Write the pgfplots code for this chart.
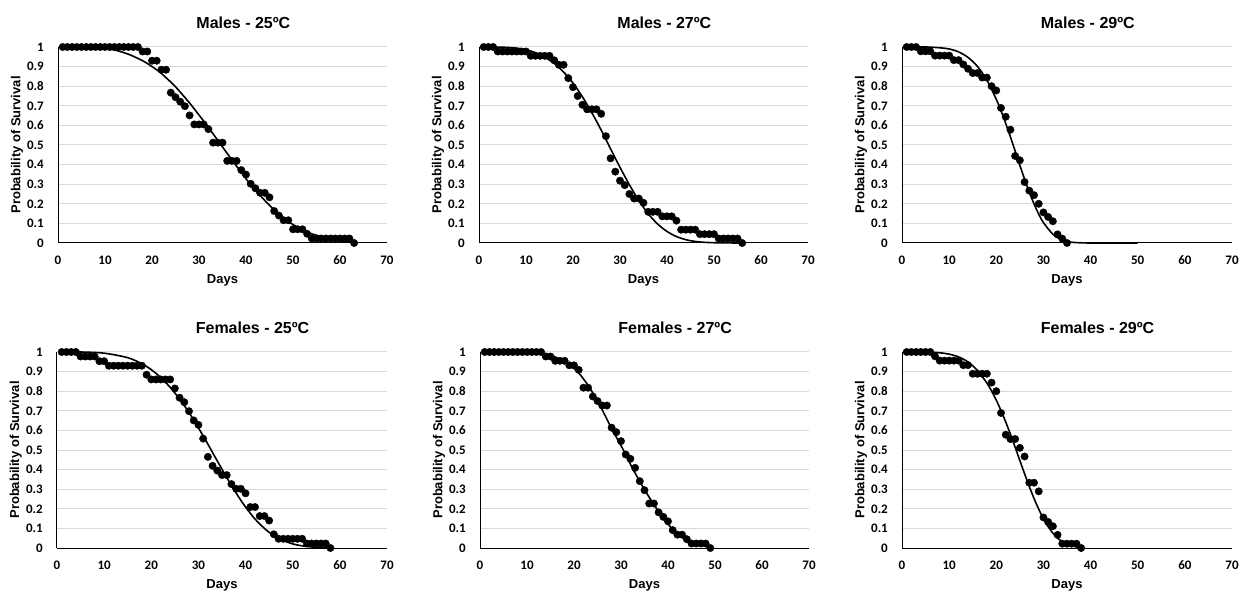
\documentclass[border=0pt]{standalone}
\usepackage{fontspec}
\setmainfont{Liberation Sans}
\newfontfamily\carlito{Carlito}
\usepackage{pgfplots}
\pgfplotsset{compat=1.18}
\definecolor{gridgray}{HTML}{D9D9D9}
\pgfplotsset{
  every axis title shift=0pt,
  surv/.style={
    scale only axis, width=329pt, height=196pt,
    xmin=0, xmax=70, ymin=0, ymax=1,
    xtick={0,10,20,30,40,50,60,70},
    ytick={0,0.1,0.2,0.3,0.4,0.5,0.6,0.7,0.8,0.9,1},
    axis x line*=bottom, axis y line*=left,
    axis line style={black, line width=1pt, -},
    ymajorgrids, grid style={color=gridgray, line width=1pt},
    major tick length=0pt,
    clip=false,
    /pgf/number format/assume math mode=true,
    ticklabel style={font=\carlito\bfseries\fontsize{13}{13}\selectfont, inner sep=0pt},
    xticklabel style={anchor=center, yshift=-17pt},
    yticklabel style={anchor=east, xshift=-14pt},
    xlabel={Days}, ylabel={Probability of Survival},
    label style={font=\bfseries\fontsize{13}{13}\selectfont},
    xlabel style={at={(axis description cs:0.5,-0.189)}, anchor=center},
    ylabel style={at={(axis description cs:-0.1246,0.5)}, anchor=center},
    title style={at={(axis description cs:0.41,1.122)}, anchor=west, font=\bfseries\fontsize{16}{16}\selectfont},
  },
  fit/.style={black, line width=1.6pt, smooth, mark=none},
  obs/.style={only marks, mark=*, mark size=3.7pt, black},
}
\begin{document}
\begin{tikzpicture}[x=1pt,y=1pt]
\path[use as bounding box] (0,0) rectangle (1250,592);

% Males 25
\begin{axis}[surv, at={(58pt,349pt)}, anchor=south west, title={Males - 25ºC}]
\addplot[fit] coordinates {(1,1)(4,1)(8,0.997)(10,0.992)(12,0.985)(15,0.963)(18,0.93)(20,0.9)(22,0.865)(25,0.797)(28,0.714)(30,0.653)(32,0.59)(35,0.49)(38,0.392)(40,0.328)(42,0.27)(45,0.192)(48,0.127)(50,0.094)(53,0.056)(55,0.039)(58,0.02)(60,0.012)(63,0.005)};
\addplot[obs] coordinates {(1,1)(2,1)(3,1)(4,1)(5,1)(6,1)(7,1)(8,1)(9,1)(10,1)(11,1)(12,1)(13,1)(14,1)(15,1)(16,1)(17,1)(18,0.977)(19,0.977)(20,0.930)(21,0.930)(22,0.884)(23,0.884)(24,0.767)(25,0.744)(26,0.721)(27,0.698)(28,0.651)(29,0.605)(30,0.605)(31,0.605)(32,0.581)(33,0.512)(34,0.512)(35,0.512)(36,0.419)(37,0.419)(38,0.419)(39,0.372)(40,0.349)(41,0.302)(42,0.279)(43,0.256)(44,0.256)(45,0.233)(46,0.163)(47,0.140)(48,0.116)(49,0.116)(50,0.070)(51,0.070)(52,0.070)(53,0.047)(54,0.023)(55,0.023)(56,0.023)(57,0.023)(58,0.023)(59,0.023)(60,0.023)(61,0.023)(62,0.023)(63,0)};
\end{axis}

% Males 27
\begin{axis}[surv, at={(479pt,349pt)}, anchor=south west, title={Males - 27ºC}]
\addplot[fit] coordinates {(1,1)(5,0.999)(8,0.994)(10,0.986)(12,0.971)(14,0.947)(16,0.917)(18,0.872)(20,0.816)(22,0.746)(24,0.665)(26,0.576)(28,0.48)(30,0.386)(32,0.297)(34,0.217)(36,0.149)(38,0.097)(40,0.059)(42,0.033)(44,0.017)(46,0.008)(48,0.0035)(50,0.0015)(53,0.0004)(56,0)};
\addplot[obs] coordinates {(1,1)(2,1)(3,1)(4,0.977)(5,0.977)(6,0.977)(7,0.977)(8,0.977)(9,0.977)(10,0.977)(11,0.955)(12,0.955)(13,0.955)(14,0.955)(15,0.955)(16,0.932)(17,0.909)(18,0.909)(19,0.841)(20,0.795)(21,0.750)(22,0.705)(23,0.682)(24,0.682)(25,0.682)(26,0.659)(27,0.545)(28,0.432)(29,0.364)(30,0.318)(31,0.295)(32,0.250)(33,0.227)(34,0.227)(35,0.205)(36,0.159)(37,0.159)(38,0.159)(39,0.136)(40,0.136)(41,0.136)(42,0.114)(43,0.068)(44,0.068)(45,0.068)(46,0.068)(47,0.045)(48,0.045)(49,0.045)(50,0.045)(51,0.023)(52,0.023)(53,0.023)(54,0.023)(55,0.023)(56,0)};
\end{axis}

% Males 29
\begin{axis}[surv, width=330pt, at={(902pt,349pt)}, anchor=south west, title={Males - 29ºC}]
\addplot[fit] coordinates {(1,1)(5,1)(8,0.996)(10,0.99)(12,0.975)(14,0.947)(16,0.901)(18,0.831)(20,0.733)(21,0.675)(22,0.61)(23,0.541)(24,0.469)(25,0.396)(26,0.326)(27,0.259)(28,0.2)(29,0.147)(30,0.104)(32,0.045)(34,0.015)(36,0.004)(38,0.001)(40,0)(45,0)(50,0)};
\addplot[obs] coordinates {(1,1)(2,1)(3,1)(4,0.978)(5,0.978)(6,0.978)(7,0.956)(8,0.956)(9,0.956)(10,0.956)(11,0.933)(12,0.933)(13,0.911)(14,0.889)(15,0.867)(16,0.867)(17,0.844)(18,0.844)(19,0.800)(20,0.778)(21,0.689)(22,0.644)(23,0.578)(24,0.444)(25,0.422)(26,0.311)(27,0.267)(28,0.244)(29,0.200)(30,0.156)(31,0.133)(32,0.111)(33,0.044)(34,0.022)(35,0)};
\end{axis}

% Females 25
\begin{axis}[surv, width=330pt, at={(57pt,44pt)}, anchor=south west, title={Females - 25ºC}]
\addplot[fit] coordinates {(1,1)(5,1)(10,0.994)(15,0.971)(18,0.94)(20,0.91)(22,0.87)(24,0.82)(26,0.76)(28,0.691)(30,0.613)(32,0.53)(34,0.444)(36,0.36)(38,0.28)(40,0.209)(42,0.148)(44,0.1)(46,0.063)(48,0.038)(50,0.021)(52,0.011)(55,0.0034)(58,0.001)};
\addplot[obs] coordinates {(1,1)(2,1)(3,1)(4,1)(5,0.977)(6,0.977)(7,0.977)(8,0.977)(9,0.953)(10,0.953)(11,0.930)(12,0.930)(13,0.930)(14,0.930)(15,0.930)(16,0.930)(17,0.930)(18,0.930)(19,0.884)(20,0.860)(21,0.860)(22,0.860)(23,0.860)(24,0.860)(25,0.814)(26,0.767)(27,0.744)(28,0.698)(29,0.651)(30,0.628)(31,0.558)(32,0.465)(33,0.419)(34,0.395)(35,0.372)(36,0.372)(37,0.326)(38,0.302)(39,0.302)(40,0.279)(41,0.209)(42,0.209)(43,0.163)(44,0.163)(45,0.140)(46,0.070)(47,0.047)(48,0.047)(49,0.047)(50,0.047)(51,0.047)(52,0.047)(53,0.023)(54,0.023)(55,0.023)(56,0.023)(57,0.023)(58,0)};
\end{axis}

% Females 27
\begin{axis}[surv, at={(480pt,44pt)}, anchor=south west, title={Females - 27ºC}]
\addplot[fit] coordinates {(1,1)(10,1)(13,0.995)(15,0.984)(17,0.963)(19,0.935)(21,0.893)(23,0.83)(24.5,0.77)(26,0.705)(28,0.61)(30.5,0.5)(32.6,0.4)(35,0.298)(37.6,0.2)(40.8,0.1)(43.3,0.05)(46,0.02)(49,0.004)};
\addplot[obs] coordinates {(1,1)(2,1)(3,1)(4,1)(5,1)(6,1)(7,1)(8,1)(9,1)(10,1)(11,1)(12,1)(13,1)(14,0.977)(15,0.977)(16,0.955)(17,0.955)(18,0.955)(19,0.932)(20,0.932)(21,0.909)(22,0.818)(23,0.818)(24,0.773)(25,0.750)(26,0.727)(27,0.727)(28,0.614)(29,0.591)(30,0.545)(31,0.477)(32,0.455)(33,0.409)(34,0.341)(35,0.295)(36,0.227)(37,0.227)(38,0.182)(39,0.159)(40,0.136)(41,0.091)(42,0.068)(43,0.068)(44,0.045)(45,0.023)(46,0.023)(47,0.023)(48,0.023)(49,0)};
\end{axis}

% Females 29
\begin{axis}[surv, width=330pt, at={(902pt,44pt)}, anchor=south west, title={Females - 29ºC}]
\addplot[fit] coordinates {(1,1)(5,1)(8,0.996)(10,0.989)(12,0.975)(14,0.949)(16,0.906)(18,0.842)(19,0.801)(20,0.754)(21,0.701)(22,0.643)(23,0.58)(24,0.514)(25,0.446)(26,0.379)(27,0.314)(28,0.253)(29,0.198)(30,0.15)(31,0.109)(32,0.076)(33,0.051)(34,0.033)(36,0.011)(38,0.003)};
\addplot[obs] coordinates {(1,1)(2,1)(3,1)(4,1)(5,1)(6,1)(7,0.978)(8,0.956)(9,0.956)(10,0.956)(11,0.956)(12,0.956)(13,0.933)(14,0.933)(15,0.889)(16,0.889)(17,0.889)(18,0.889)(19,0.844)(20,0.800)(21,0.689)(22,0.578)(23,0.556)(24,0.556)(25,0.511)(26,0.467)(27,0.333)(28,0.333)(29,0.289)(30,0.156)(31,0.133)(32,0.111)(33,0.067)(34,0.022)(35,0.022)(36,0.022)(37,0.022)(38,0)};
\end{axis}
\end{tikzpicture}
\end{document}
